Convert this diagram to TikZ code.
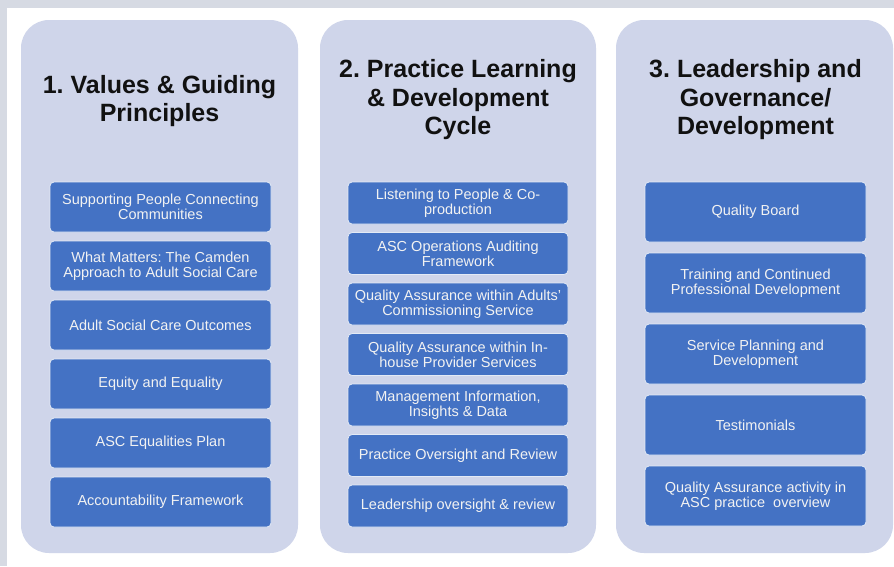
\documentclass[tikz,border=0pt]{standalone}
\usepackage{fontspec}
\setmainfont{Liberation Sans}
\frenchspacing
\definecolor{pagegray}{HTML}{D6DAE3}
\definecolor{panelfill}{HTML}{CFD5EA}
\definecolor{boxfill}{HTML}{4472C4}
\definecolor{boxtext}{HTML}{F2F2F2}
\definecolor{titletext}{HTML}{111111}
\begin{document}
\begin{tikzpicture}[x=1pt,y=-1pt,
  panel/.style={fill=panelfill,rounded corners=28pt},
  title/.style={text=titletext,align=center,font=\fontsize{25}{28.5}\selectfont\bfseries,inner sep=0pt},
  item/.style={fill=boxfill,draw=white!85!boxfill,line width=0.8pt,rounded corners=4pt,
    text=boxtext,align=center,font=\fontsize{14.5}{15}\selectfont,inner sep=0pt},
  itemA/.style={item,minimum width=221pt,minimum height=50pt},
  itemB/.style={item,minimum width=220pt,minimum height=42pt},
  itemC/.style={item,minimum width=221pt,minimum height=60pt}]
\useasboundingbox (0,0) rectangle (894,566);
% page frame
\fill[pagegray] (0,0) rectangle (894,566);
\fill[white] (7,8) rectangle (894,566);
% column panels
\path[panel] (21,20) rectangle (298,553);
\path[panel] (320,20) rectangle (596,553);
\path[panel] (616,20) rectangle (893,553);
% titles
\node[title] (t1) at (159.5,101) {1. Values \& Guiding\\Principles};
\node[title] (t2) at (458,100) {2. Practice Learning\\\& Development\\Cycle};
\node[title] (t3) at (755.5,100) {3. Leadership and\\Governance/\\Development};
% column 1
\node[itemA] (a1) at (160.5,207) {Supporting People Connecting\\Communities};
\node[itemA] (a2) at (160.5,266) {What Matters: The Camden\\Approach to Adult Social Care};
\node[itemA] (a3) at (160.5,325) {Adult Social Care Outcomes};
\node[itemA] (a4) at (160.5,384) {Equity and Equality};
\node[itemA] (a5) at (160.5,443) {ASC Equalities Plan};
\node[itemA] (a6) at (160.5,502) {Accountability Framework};
% column 2
\node[itemB] (b1) at (458,203) {Listening to People \& Co-\\production};
\node[itemB] (b2) at (458,253.5) {ASC Operations Auditing\\Framework};
\node[itemB] (b3) at (458,304) {Quality Assurance within Adults’\\Commissioning Service};
\node[itemB] (b4) at (458,354.5) {Quality Assurance within In-\\house Provider Services};
\node[itemB] (b5) at (458,405) {Management Information,\\Insights \& Data};
\node[itemB] (b6) at (458,455.5) {Practice Oversight and Review};
\node[itemB] (b7) at (458,506) {Leadership oversight \& review};
% column 3
\node[itemC] (c1) at (755.5,212) {Quality Board};
\node[itemC] (c2) at (755.5,283) {Training and Continued\\Professional Development};
\node[itemC] (c3) at (755.5,354) {Service Planning and\\Development};
\node[itemC] (c4) at (755.5,425) {Testimonials};
\node[itemC] (c5) at (755.5,496) {Quality Assurance activity in\\ASC practice\ \ overview};
\end{tikzpicture}
\end{document}
